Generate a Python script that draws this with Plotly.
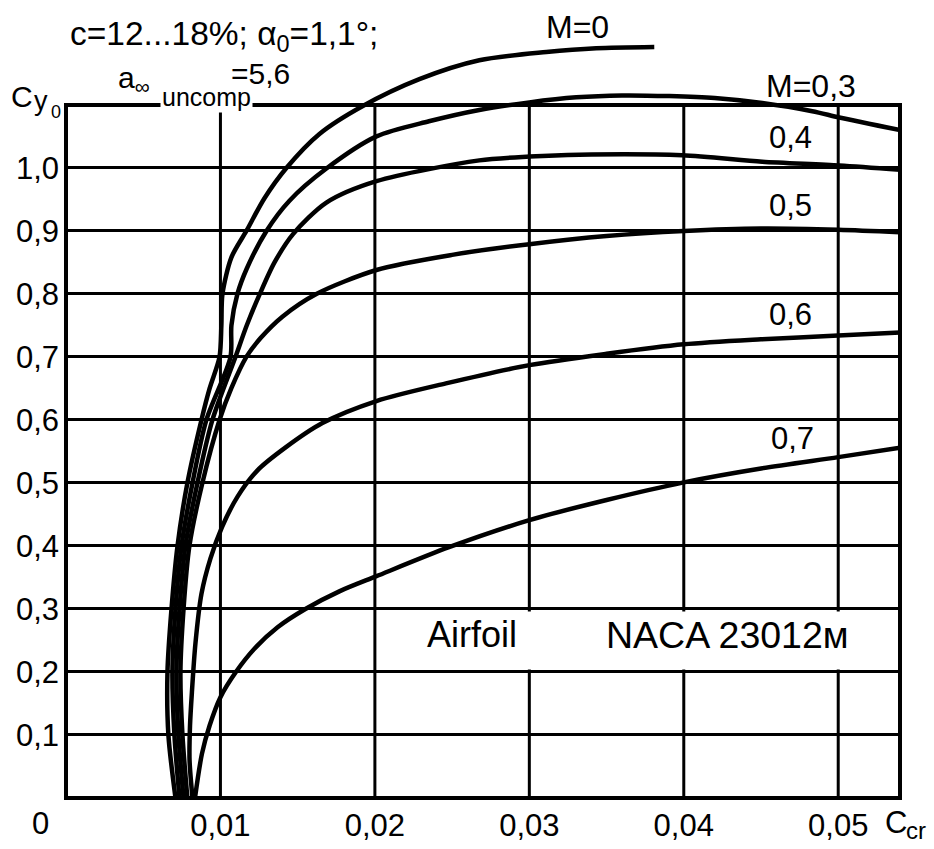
import plotly.graph_objects as go

# ---- canvas and axis extents ----
W, H = 934, 849
M_L, M_R, M_T, M_B = 66, 34, 6, 43
X_MAX = 0.054          # right edge of the frame (C_cr)
Y_MAX = 1.257          # room above the frame for the M=0 curve
Y_FRAME = 1.1          # top edge of the gridded frame

# ---- tick labels ----
x_ticks = [0.01, 0.02, 0.03, 0.04, 0.05]
x_tick_text = ["0,01", "0,02", "0,03", "0,04", "0,05"]
y_ticks = [0.1, 0.2, 0.3, 0.4, 0.5, 0.6, 0.7, 0.8, 0.9, 1.0]
y_tick_text = ["0,1", "0,2", "0,3", "0,4", "0,5", "0,6", "0,7", "0,8", "0,9", "1,0"]

# ---- curves Cy0(C_cr) for each Mach number ----
m_labels = ["M=0", "M=0,3", "0,4", "0,5", "0,6", "0,7"]

ccr_m00 = [0.00709, 0.00663, 0.00657, 0.00683, 0.00722, 0.00786, 0.00877, 0.00930,
           0.00994, 0.01006, 0.01013, 0.01071, 0.01168, 0.01285, 0.01427, 0.01641,
           0.01919, 0.02288, 0.02676, 0.03110, 0.03433, 0.03809]
cy_m00 = [0.0, 0.10, 0.20, 0.30, 0.40, 0.50, 0.60, 0.65,
          0.70, 0.75, 0.80, 0.858, 0.90, 0.952, 1.0, 1.054,
          1.098, 1.141, 1.171, 1.184, 1.190, 1.192]

ccr_m03 = [0.00735, 0.00702, 0.00689, 0.00709, 0.00748, 0.00819, 0.00909, 0.01065,
           0.01071, 0.01110, 0.01170, 0.01298, 0.01447, 0.01686, 0.02010, 0.02350,
           0.02676, 0.03000, 0.03304, 0.03600, 0.03906, 0.04200, 0.04508, 0.04832,
           0.05007, 0.05400]
cy_m03 = [0.0, 0.10, 0.20, 0.30, 0.40, 0.50, 0.60, 0.70,
          0.75, 0.80, 0.84, 0.90, 0.948, 0.999, 1.050, 1.074,
          1.092, 1.104, 1.112, 1.115, 1.114, 1.111, 1.103, 1.090,
          1.080, 1.060]

ccr_m04 = [0.00761, 0.00728, 0.00715, 0.00735, 0.00773, 0.00851, 0.00948, 0.01097,
           0.01170, 0.01255, 0.01350, 0.01470, 0.01686, 0.02010, 0.02676, 0.03000,
           0.03324, 0.03990, 0.04508, 0.05007, 0.05400]
cy_m04 = [0.0, 0.10, 0.20, 0.30, 0.40, 0.50, 0.60, 0.70,
          0.75, 0.80, 0.85, 0.895, 0.945, 0.979, 1.012, 1.018,
          1.021, 1.020, 1.010, 1.004, 0.997]

ccr_m05 = [0.00786, 0.00754, 0.00741, 0.00761, 0.00799, 0.00883, 0.00994, 0.01070,
           0.01168, 0.01260, 0.01401, 0.01621, 0.02010, 0.02500, 0.03000, 0.03500,
           0.04000, 0.04500, 0.05000, 0.05400]
cy_m05 = [0.0, 0.10, 0.20, 0.30, 0.40, 0.50, 0.60, 0.65,
          0.70, 0.730, 0.764, 0.800, 0.838, 0.862, 0.879, 0.892,
          0.900, 0.904, 0.902, 0.898]

ccr_m06 = [0.00819, 0.00800, 0.00803, 0.00815, 0.00838, 0.00877, 0.00935, 0.01010,
           0.01110, 0.01240, 0.01420, 0.01660, 0.02010, 0.02460, 0.03000, 0.03500,
           0.04000, 0.04500, 0.05000, 0.05400]
cy_m06 = [0.0, 0.06, 0.115, 0.167, 0.245, 0.324, 0.380, 0.430,
          0.478, 0.520, 0.556, 0.595, 0.630, 0.658, 0.687, 0.705,
          0.720, 0.728, 0.734, 0.739]

ccr_m07 = [0.00835, 0.00880, 0.00930, 0.01000, 0.01100, 0.01220, 0.01370, 0.01550,
           0.01770, 0.02010, 0.02480, 0.03000, 0.03500, 0.04000, 0.04500, 0.05000,
           0.05400]
cy_m07 = [0.0, 0.070, 0.115, 0.160, 0.200, 0.237, 0.271, 0.300,
          0.328, 0.352, 0.398, 0.441, 0.473, 0.501, 0.523, 0.541,
          0.556]

curves = [(ccr_m00, cy_m00), (ccr_m03, cy_m03), (ccr_m04, cy_m04),
          (ccr_m05, cy_m05), (ccr_m06, cy_m06), (ccr_m07, cy_m07)]

FONT = "Liberation Sans, Arial, Helvetica, sans-serif"
INK = "black"


def paper_x(px):
    return (px - M_L) / (W - M_L - M_R)


def paper_y(py):
    return (H - M_B - py) / (H - M_T - M_B)


fig = go.Figure()

for (cx, cy), name in zip(curves, m_labels):
    fig.add_trace(go.Scatter(
        x=cx, y=cy, mode="lines", name=name,
        line=dict(color=INK, width=4.5, shape="spline", smoothing=0.8),
        hoverinfo="skip",
    ))

shapes = []
# vertical grid lines stop at the top of the frame
for xv in x_ticks:
    shapes.append(dict(type="line", xref="x", yref="y", x0=xv, x1=xv, y0=0, y1=Y_FRAME,
                       line=dict(color=INK, width=3), layer="between"))
# frame
shapes.append(dict(type="rect", xref="paper", yref="paper", x0=0, x1=1,
                   y0=0, y1=Y_FRAME / Y_MAX, line=dict(color=INK, width=4),
                   fillcolor="rgba(0,0,0,0)", layer="above"))
# blank band behind the airfoil caption
shapes.append(dict(type="rect", xref="x", yref="y", x0=0.0238, x1=0.0532,
                   y0=0.204, y1=0.296, fillcolor="white", line=dict(width=0),
                   layer="above"))

ann = []


def label(text, px, py, size, xanchor="center", yanchor="middle", **kw):
    ann.append(dict(text=text, x=paper_x(px), y=paper_y(py), xref="paper", yref="paper",
                    xanchor=xanchor, yanchor=yanchor, showarrow=False,
                    font=dict(family=FONT, size=size, color=INK), **kw))


# Mach number labels
label(m_labels[0], 577, 27, 32)
label(m_labels[1], 811, 87, 32)
label(m_labels[2], 790, 139, 31)
label(m_labels[3], 790, 208, 31)
label(m_labels[4], 790, 318, 31)
label(m_labels[5], 792, 443, 31)

# caption inside the grid
label("Airfoil", 472, 641, 36)
label("NACA 23012м", 727, 641, 37.5)

# origin and axis titles
label("0", 40, 832, 31)
label("C", 896, 831, 31)
label("cr", 904, 839, 24, xanchor="left")
label("C", 22, 97, 30)
label("y", 41, 102, 27)
label("0", 56, 113, 18)

# conditions heading
label("c=12...18%; α<sub>0</sub>=1,1°;", 68, 36, 33.5, xanchor="left")
label("a<sub>∞</sub>", 116, 80, 30, xanchor="left")
label("uncomp", 160, 98, 25, xanchor="left", bgcolor="white", borderpad=1)
label("=5,6", 229, 74, 30, xanchor="left")

fig.update_layout(
    width=W, height=H,
    margin=dict(l=M_L, r=M_R, t=M_T, b=M_B),
    plot_bgcolor="white", paper_bgcolor="white",
    showlegend=False, hovermode=False,
    shapes=shapes, annotations=ann,
    xaxis=dict(range=[0, X_MAX], tickvals=x_ticks, ticktext=x_tick_text,
               showgrid=False, zeroline=False, showline=False, ticks="",
               tickfont=dict(family=FONT, size=31, color=INK), ticklabelstandoff=6),
    yaxis=dict(range=[0, Y_MAX], tickvals=y_ticks, ticktext=y_tick_text,
               showgrid=True, gridcolor=INK, gridwidth=3,
               zeroline=False, showline=False, ticks="",
               tickfont=dict(family=FONT, size=31, color=INK), ticklabelstandoff=6),
)

fig.write_html("out.html")
